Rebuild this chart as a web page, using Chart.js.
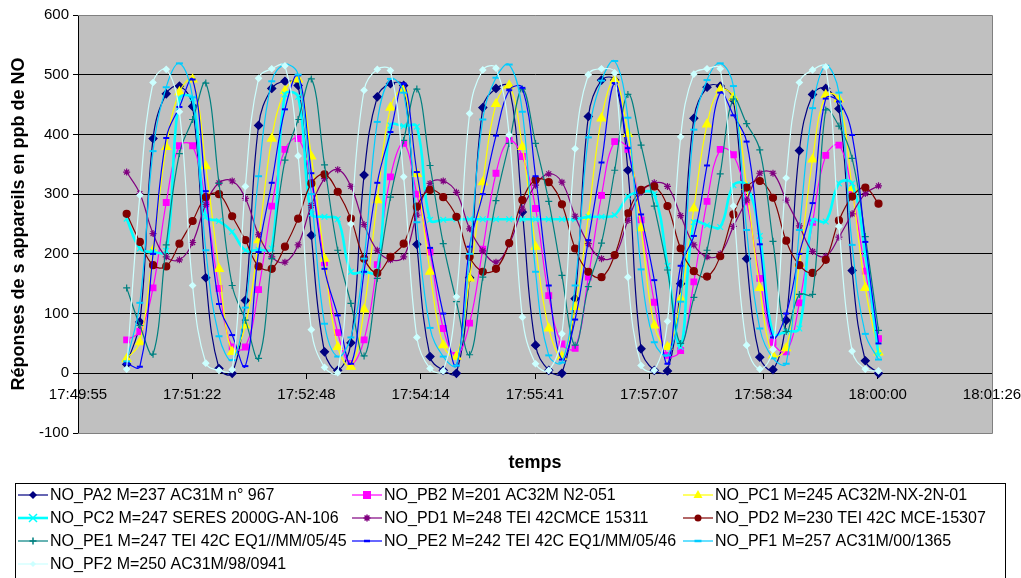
<!DOCTYPE html>
<html>
<head>
<meta charset="utf-8">
<title>Réponses des appareils NO</title>
<script src="https://cdn.jsdelivr.net/npm/chart.js@4.4.1/dist/chart.umd.min.js"></script>
<style>
  html, body { margin: 0; padding: 0; background: #fff; }
  #wrap { width: 1021px; height: 578px; }
</style>
</head>
<body>
<div id="wrap"><canvas id="noChart" width="1021" height="578"></canvas></div>
<script>
// readings every ~10 s, first one at 17:50:32
const firstSample = '17:50:32';
const sampleStep = 9.975; // seconds

const seriesNames = [
  'NO_PA2 M=237 AC31M n° 967',
  'NO_PB2 M=201 AC32M N2-051',
  'NO_PC1 M=245 AC32M-NX-2N-01',
  'NO_PC2 M=247 SERES 2000G-AN-106',
  'NO_PD1 M=248 TEI 42CMCE 15311',
  'NO_PD2 M=230 TEI 42C MCE-15307',
  'NO_PE1 M=247 TEI 42C EQ1//MM/05/45',
  'NO_PE2 M=242 TEI 42C EQ1/MM/05/46',
  'NO_PF1 M=257 AC31M/00/1365',
  'NO_PF2 M=250 AC31M/98/0941'
];

const noPA2 = [15, 86, 393, 468, 481, 447, 160, 8, 0, 122, 415, 477, 489, 482, 231, 36, 5, 51, 332, 463,
  485, 482, 216, 28, 5, 0, 160, 445, 477, 480, 270, 47, 5, 0, 125, 430, 491, 491, 340, 41,
  5, 4, 150, 427, 479, 481, 458, 192, 27, 6, 89, 373, 467, 477, 443, 172, 21, 0];
const noPB2 = [56, 70, 143, 286, 381, 381, 284, 142, 44, 44, 140, 280, 375, 393, 319, 185, 68, 16, 56, 182,
  329, 385, 300, 203, 75, 30, 84, 208, 335, 390, 363, 276, 130, 49, 42, 161, 298, 388, 375, 257,
  119, 30, 38, 153, 288, 375, 366, 287, 159, 52, 36, 118, 253, 365, 382, 304, 171, 58];
const noPC1 = [24, 52, 206, 379, 471, 492, 347, 175, 36, 80, 223, 393, 473, 492, 363, 192, 44, 11, 107, 290,
  445, 475, 334, 170, 47, 28, 159, 320, 451, 482, 379, 212, 75, 28, 111, 262, 427, 491, 401, 243,
  80, 44, 125, 276, 417, 475, 462, 312, 143, 30, 42, 183, 358, 466, 459, 310, 143, 35];
const noPC2 = [259, 209, 203, 205, 460, 460, 262, 255, 237, 206, 207, 209, 467, 463, 267, 262, 258, 170, 170, 170,
  415, 414, 413, 257, 257, 258, 258, 258, 258, 258, 258, 258, 258, 258, 258, 262, 262, 265, 296, 304,
  300, 180, 44, 253, 248, 245, 315, 315, 230, 66, 70, 75, 256, 254, 318, 318, 200, 30];
const noPD1 = [337, 301, 234, 195, 190, 219, 283, 319, 322, 293, 232, 195, 186, 215, 281, 326, 341, 313, 249, 206,
  190, 195, 265, 318, 322, 303, 242, 205, 186, 216, 275, 315, 334, 320, 263, 217, 192, 197, 256, 303,
  319, 313, 264, 215, 195, 200, 246, 290, 335, 335, 290, 247, 204, 196, 228, 267, 301, 314];
const noPD2 = [267, 220, 181, 179, 217, 255, 295, 300, 263, 223, 179, 175, 212, 259, 318, 333, 304, 259, 192, 168,
  195, 217, 279, 307, 295, 262, 195, 170, 175, 218, 290, 324, 320, 283, 209, 170, 161, 198, 268, 307,
  313, 280, 209, 171, 162, 196, 266, 311, 322, 294, 222, 181, 168, 190, 256, 296, 311, 284];
const noPE1 = [143, 80, 32, 215, 368, 425, 486, 318, 147, 89, 25, 192, 357, 425, 493, 349, 206, 117, 29, 159,
  295, 390, 476, 348, 217, 120, 31, 161, 289, 385, 476, 385, 288, 164, 47, 145, 218, 340, 467, 382,
  280, 173, 50, 127, 206, 334, 459, 418, 374, 221, 70, 132, 132, 441, 414, 360, 229, 72];
const noPE2 = [16, 11, 200, 394, 446, 492, 305, 116, 64, 12, 203, 319, 442, 499, 335, 175, 97, 16, 170, 319,
  404, 485, 337, 210, 100, 13, 212, 300, 398, 474, 478, 330, 147, 23, 90, 223, 353, 486, 377, 266,
  156, 16, 180, 230, 348, 470, 432, 388, 216, 60, 100, 200, 285, 460, 455, 399, 220, 50];
const noPF1 = [20, 118, 372, 479, 519, 462, 206, 62, 22, 110, 330, 489, 517, 500, 300, 83, 28, 60, 192, 421,
  493, 470, 253, 76, 28, 13, 200, 425, 495, 517, 438, 170, 30, 18, 147, 395, 490, 523, 428, 174,
  52, 30, 120, 408, 491, 519, 481, 240, 75, 25, 16, 240, 444, 515, 470, 215, 66, 23];
const noPF2 = [7, 298, 487, 509, 438, 147, 17, 5, 6, 313, 494, 510, 515, 364, 73, 10, 1, 250, 474, 509,
  507, 329, 60, 8, 4, 128, 435, 508, 511, 399, 94, 16, 5, 66, 376, 500, 510, 503, 161, 13,
  5, 87, 396, 501, 510, 510, 280, 47, 7, 40, 327, 487, 508, 513, 246, 37, 7, 4];

// y axis and x axis (x in thousandths of a day, like the Excel serial time)
const yTicks = [-100, 0, 100, 200, 300, 400, 500, 600];
const xTickStart = 743;   // 17:49:55
const xTickEnd = 751;     // 18:01:26

const FONT = 'Arial, "Liberation Sans", sans-serif';

function secondsOf(hms) {
  const p = hms.split(':').map(Number);
  return p[0] * 3600 + p[1] * 60 + p[2];
}
function pad(n) { return (n < 10 ? '0' : '') + n; }
function formatTime(sec) {
  const s = Math.round(sec);
  return Math.floor(s / 3600) + ':' + pad(Math.floor((s % 3600) / 60)) + ':' + pad(s % 60);
}

const t0 = secondsOf(firstSample);
function toPoints(values) {
  return values.map((v, i) => ({ x: (t0 + i * sampleStep) / 86.4, y: v }));
}

const styles = [
  { data: noPA2, color: '#000080', marker: 'rectRot', r: 4, width: 1.2 },
  { data: noPB2, color: '#FF00FF', marker: 'rect', r: 4, width: 1.2 },
  { data: noPC1, color: '#FFFF00', marker: 'triangle', r: 5, width: 1.2 },
  { data: noPC2, color: '#00FFFF', marker: 'crossRot', r: 4, width: 2.6 },
  { data: noPD1, color: '#800080', marker: 'star', r: 3.5, width: 1.2 },
  { data: noPD2, color: '#800000', marker: 'circle', r: 3.5, width: 1.2 },
  { data: noPE1, color: '#008080', marker: 'cross', r: 3.5, width: 1.2 },
  { data: noPE2, color: '#0000FF', marker: 'line', r: 3, width: 1.2 },
  { data: noPF1, color: '#00CCFF', marker: 'line', r: 3.5, width: 1.2 },
  { data: noPF2, color: '#CCFFFF', marker: 'rectRot', r: 3, width: 1.2 }
];

const datasets = styles.map((s, i) => ({
  label: seriesNames[i],
  data: toPoints(s.data),
  borderColor: s.color,
  backgroundColor: s.color,
  borderWidth: s.width,
  tension: 0.4,
  pointStyle: s.marker,
  pointRadius: s.r,
  pointBackgroundColor: s.color,
  pointBorderColor: s.color,
  pointBorderWidth: s.marker === 'line' ? 2 : 1.2,
  order: seriesNames.length - i
}));

// draw a legend marker the same way the points look
function drawMarker(c, style, x, y, r, color) {
  c.save();
  c.fillStyle = color;
  c.strokeStyle = color;
  c.lineWidth = 1.5;
  c.beginPath();
  if (style === 'rectRot') {
    c.moveTo(x, y - r); c.lineTo(x + r, y); c.lineTo(x, y + r); c.lineTo(x - r, y); c.closePath(); c.fill();
  } else if (style === 'rect') {
    c.fillRect(x - r, y - r, 2 * r, 2 * r);
  } else if (style === 'triangle') {
    c.moveTo(x, y - r); c.lineTo(x + r * 0.9, y + r * 0.6); c.lineTo(x - r * 0.9, y + r * 0.6); c.closePath(); c.fill();
  } else if (style === 'circle') {
    c.arc(x, y, r, 0, Math.PI * 2); c.fill();
  } else if (style === 'cross') {
    c.moveTo(x - r, y); c.lineTo(x + r, y); c.moveTo(x, y - r); c.lineTo(x, y + r); c.stroke();
  } else if (style === 'crossRot') {
    c.moveTo(x - r, y - r); c.lineTo(x + r, y + r); c.moveTo(x + r, y - r); c.lineTo(x - r, y + r); c.stroke();
  } else if (style === 'star') {
    c.moveTo(x - r, y); c.lineTo(x + r, y); c.moveTo(x, y - r); c.lineTo(x, y + r);
    c.moveTo(x - r * 0.7, y - r * 0.7); c.lineTo(x + r * 0.7, y + r * 0.7);
    c.moveTo(x + r * 0.7, y - r * 0.7); c.lineTo(x - r * 0.7, y + r * 0.7); c.stroke();
  } else if (style === 'line') {
    c.lineWidth = 2.5; c.moveTo(x - r, y); c.lineTo(x + r, y); c.stroke();
  }
  c.restore();
}

const plotFrame = {
  id: 'plotFrame',
  beforeDraw(chart) {
    const { ctx, chartArea: a } = chart;
    ctx.save();
    ctx.fillStyle = '#C0C0C0';
    ctx.fillRect(a.left, a.top, a.right - a.left, a.bottom - a.top);
    ctx.restore();
  },
  beforeDatasetsDraw(chart) {
    const { ctx, chartArea: a } = chart;
    ctx.save();
    ctx.strokeStyle = '#808080';
    ctx.lineWidth = 1;
    ctx.beginPath();
    ctx.moveTo(a.left, Math.round(a.top) + 0.5);
    ctx.lineTo(Math.round(a.right) + 0.5, Math.round(a.top) + 0.5);
    ctx.lineTo(Math.round(a.right) + 0.5, Math.round(a.bottom) + 0.5);
    ctx.lineTo(a.left, Math.round(a.bottom) + 0.5);
    ctx.stroke();
    ctx.restore();
  },
  afterDraw(chart) {
    const { ctx, chartArea: a } = chart;
    ctx.save();
    ctx.fillStyle = '#000';
    // axis titles
    ctx.font = 'bold 18px ' + FONT;
    ctx.textAlign = 'center';
    ctx.textBaseline = 'middle';
    ctx.fillText('temps', (a.left + a.right) / 2, 463);
    ctx.save();
    ctx.translate(19, (a.top + a.bottom) / 2);
    ctx.rotate(-Math.PI / 2);
    ctx.fillText('Réponses de s appareils en ppb de NO', 0, 0);
    ctx.restore();

    // legend box
    ctx.strokeStyle = '#000';
    ctx.lineWidth = 1;
    ctx.strokeRect(15.5, 483.5, 990, 120);
    const colX = [18, 352, 683];
    const rowY = [495, 518, 541, 564];
    ctx.font = '16px ' + FONT;
    ctx.textAlign = 'left';
    styles.forEach((s, i) => {
      const x = colX[i % 3];
      const y = rowY[Math.floor(i / 3)];
      ctx.strokeStyle = s.color;
      ctx.lineWidth = s.width;
      ctx.beginPath();
      ctx.moveTo(x, y);
      ctx.lineTo(x + 30, y);
      ctx.stroke();
      drawMarker(ctx, s.marker, x + 15, y, s.r, s.color);
      ctx.fillStyle = '#000';
      ctx.fillText(seriesNames[i], x + 32, y + 1);
    });
    ctx.restore();
  }
};

new Chart(document.getElementById('noChart'), {
  type: 'line',
  data: { datasets },
  options: {
    responsive: false,
    animation: false,
    events: [],
    layout: { padding: { top: 15, right: 29, bottom: 145, left: 0 } },
    plugins: { legend: { display: false }, tooltip: { enabled: false } },
    scales: {
      x: {
        type: 'linear',
        position: { y: 0 },
        min: xTickStart,
        max: xTickEnd,
        afterFit(scale) { scale.paddingLeft = 0; scale.paddingRight = 0; },
        ticks: {
          stepSize: 1,
          autoSkip: false,
          maxRotation: 0,
          color: '#000',
          padding: 8,
          font: { family: FONT, size: 15 },
          callback: v => formatTime(v * 86.4)
        },
        grid: { drawOnChartArea: false, drawTicks: true, tickLength: 5, tickColor: '#000' },
        border: { color: '#000', width: 1 }
      },
      y: {
        min: yTicks[0],
        max: yTicks[yTicks.length - 1],
        afterFit(scale) { scale.width = 78; },
        afterBuildTicks(scale) { scale.ticks = yTicks.map(v => ({ value: v })); },
        ticks: {
          color: '#000',
          padding: 4,
          font: { family: FONT, size: 15 }
        },
        grid: {
          color: c => (c.tick && c.tick.value >= 0 && c.tick.value < 600) ? '#000' : 'rgba(0,0,0,0)',
          tickColor: '#000',
          tickLength: 5,
          lineWidth: 1
        },
        border: { color: '#000', width: 1 }
      }
    }
  },
  plugins: [plotFrame]
});
</script>
</body>
</html>
